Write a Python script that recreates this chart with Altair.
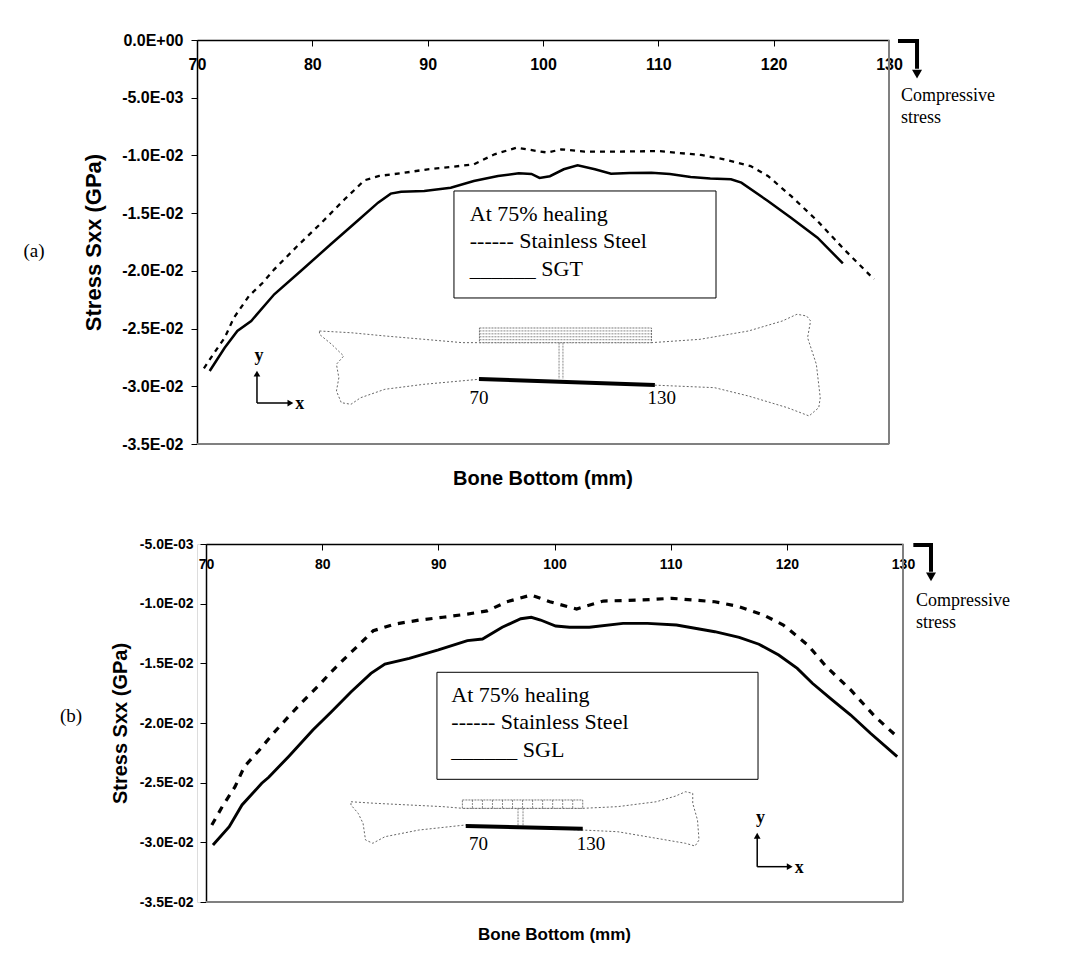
import altair as alt
import pandas as pd

# ---------------- data ----------------
X_TICKS = [70, 80, 90, 100, 110, 120, 130]
A_Y_TICKS = [0.0, -0.005, -0.010, -0.015, -0.020, -0.025, -0.030, -0.035]
B_Y_TICKS = [-0.005, -0.010, -0.015, -0.020, -0.025, -0.030, -0.035]

# Panel (a): Stainless Steel (dashed)
A_SS_X = [70.6, 71.5, 72.4, 73.2, 74.5, 75.7, 76.7, 78.7, 80.8, 81.8, 82.8, 83.8,
          84.5, 85.8, 88.0, 90.0, 92.0, 94.0, 95.8, 97.7, 99.5, 100.4, 101.6, 103.6,
          106.5, 110.0, 113.7, 115.7, 118.0, 119.5, 121.5, 123.8, 126.1, 128.7]
A_SS_Y = [-0.02844, -0.02709, -0.02579, -0.02406, -0.02218, -0.02103, -0.01987, -0.01785,
          -0.01583, -0.01481, -0.01380, -0.01285, -0.01216, -0.01178, -0.01150, -0.01120,
          -0.01100, -0.01077, -0.00990, -0.00933, -0.00962, -0.00975, -0.00947, -0.00967,
          -0.00967, -0.00962, -0.00996, -0.01034, -0.01092, -0.01178, -0.01351, -0.01568,
          -0.01813, -0.02073]

# Panel (a): SGT (solid)
A_SGT_X = [71.1, 72.4, 73.5, 74.7, 76.7, 79.0, 81.6, 83.9, 85.7, 86.8, 87.7, 89.7,
           92.0, 94.0, 96.1, 97.9, 99.0, 99.7, 100.6, 101.8, 103.0, 104.5, 105.9, 107.5,
           109.4, 111.0, 112.8, 114.5, 116.3, 117.2, 119.5, 121.5, 123.8, 126.0]
A_SGT_Y = [-0.02868, -0.02666, -0.02521, -0.02434, -0.02203, -0.02001, -0.01770, -0.01568,
           -0.01409, -0.01331, -0.01314, -0.01308, -0.01280, -0.01221, -0.01178, -0.01155,
           -0.01160, -0.01195, -0.01180, -0.01120, -0.01086, -0.01120, -0.01158, -0.01152,
           -0.01150, -0.01160, -0.01187, -0.01200, -0.01207, -0.01236, -0.01395, -0.01540,
           -0.01713, -0.01935]

# Panel (b): Stainless Steel (dashed)
B_SS_X = [70.5, 71.4, 72.5, 73.3, 74.6, 75.8, 77.1, 78.3, 79.6, 80.8, 82.1, 83.3, 84.4,
          86.3, 88.4, 90.4, 92.5, 94.2, 95.9, 98.0, 99.6, 101.9, 104.2, 107.6, 110.1,
          113.8, 115.9, 118.0, 119.7, 121.8, 123.4, 125.5, 127.6, 129.5]
B_SS_Y = [-0.02855, -0.02701, -0.02534, -0.02366, -0.02226, -0.02086, -0.01947, -0.01822,
          -0.01696, -0.01570, -0.01444, -0.01332, -0.01227, -0.01170, -0.01137, -0.01114,
          -0.01087, -0.01061, -0.00984, -0.00927, -0.00984, -0.01045, -0.00978, -0.00969,
          -0.00955, -0.00984, -0.01025, -0.01095, -0.01179, -0.01346, -0.01528, -0.01723,
          -0.01947, -0.02115]

# Panel (b): SGL (solid)
B_SGL_X = [70.6, 72.0, 73.1, 74.8, 75.4, 77.1, 79.2, 80.8, 82.5, 84.2, 85.4, 87.5, 90.0,
           92.5, 93.8, 95.5, 97.1, 98.0, 98.8, 100.1, 101.3, 103.0, 105.9, 108.0, 110.5,
           113.8, 115.9, 117.6, 119.3, 120.9, 122.2, 123.9, 125.5, 127.2, 129.5]
B_SGL_Y = [-0.03022, -0.02869, -0.02687, -0.02505, -0.02455, -0.02282, -0.02059, -0.01905,
           -0.01738, -0.01584, -0.01506, -0.01458, -0.01388, -0.01310, -0.01296, -0.01198,
           -0.01126, -0.01114, -0.01137, -0.01187, -0.01198, -0.01198, -0.01165, -0.01165,
           -0.01179, -0.01235, -0.01282, -0.01340, -0.01430, -0.01542, -0.01667, -0.01807,
           -0.01933, -0.02086, -0.02282]

LEGEND_TITLE = "At 75% healing"
A_LEGEND = [LEGEND_TITLE, "------ Stainless Steel", "______ SGT"]
B_LEGEND = [LEGEND_TITLE, "------ Stainless Steel", "______ SGL"]

# Inset bone sketches (outline in chart units: mm, GPa)
BONE_A = [(80.62, -0.02521), (83.35, -0.02536), (86.29, -0.02564), (89.66, -0.02593),
          (93.01, -0.02622), (94.49, -0.02622), (109.41, -0.02622), (113.61, -0.02593),
          (117.81, -0.02521), (120.76, -0.02434), (122.02, -0.02376), (122.86, -0.02391),
          (123.20, -0.02434), (122.94, -0.02579), (123.70, -0.02809), (124.04, -0.03099),
          (123.91, -0.03185), (123.07, -0.03257), (121.18, -0.03185), (117.81, -0.03084),
          (114.87, -0.03012), (109.41, -0.02989), (94.49, -0.02939), (89.66, -0.02983),
          (86.29, -0.03026), (84.19, -0.03099), (83.35, -0.03156), (82.51, -0.03142),
          (82.09, -0.03041), (82.30, -0.02926), (82.09, -0.02809), (82.72, -0.02738),
          (81.67, -0.02636), (80.62, -0.02550), (80.62, -0.02521)]
BONE_B = [(82.48, -0.02660), (84.57, -0.02673), (87.48, -0.02687), (90.40, -0.02701),
          (92.07, -0.02715), (102.43, -0.02715), (105.43, -0.02701), (108.76, -0.02660),
          (110.43, -0.02612), (111.27, -0.02576), (111.90, -0.02589), (111.90, -0.02673),
          (112.31, -0.02813), (112.44, -0.02980), (112.10, -0.03031), (111.27, -0.03008),
          (108.76, -0.02966), (105.43, -0.02911), (102.43, -0.02897), (92.29, -0.02855),
          (88.32, -0.02897), (85.40, -0.02953), (84.36, -0.03008), (83.73, -0.02980),
          (83.52, -0.02841), (83.10, -0.02757), (82.48, -0.02687), (82.48, -0.02660)]

SANS = "Liberation Sans"
SERIF = "Liberation Serif"

LABEL_EXPR = (
    "datum.value == 0 ? '0.0E+00' : "
    "(datum.value < 0 ? '-' : '') + "
    "format(abs(datum.value) / pow(10, floor(log(abs(datum.value)) / LN10 + 1e-9)), '.1f') + 'E' + "
    "(floor(log(abs(datum.value)) / LN10 + 1e-9) < 0 ? '-' : '+') + '0' + "
    "abs(floor(log(abs(datum.value)) / LN10 + 1e-9))"
)


def series_df(xs, ys):
    return pd.DataFrame({"x": xs, "y": ys, "i": list(range(len(xs)))})


def path_df(pts):
    return pd.DataFrame({"x": [p[0] for p in pts], "y": [p[1] for p in pts],
                         "i": list(range(len(pts)))})


def panel(c):
    W, H, S = c["W"], c["H"], c["shift"]
    GW = W + S
    xs = alt.Scale(domain=[70, 130], nice=False, zero=False, range=[S, GW])
    ys = alt.Scale(domain=c["ydom"], nice=False, zero=False)
    xaxis = alt.Axis(orient="bottom", offset=-H, values=X_TICKS, title=None, grid=False,
                     tickSize=6, tickColor="black", tickWidth=1, domainColor="black",
                     domainWidth=1.5, labelPadding=c["xlp"], labelFont=SANS,
                     labelFontWeight="bold", labelFontSize=c["xfs"], labelColor="black",
                     labelFlush=False, labelOverlap=False)
    yaxis = alt.Axis(values=c["yticks"], title="Stress Sxx (GPa)", titleFont=SANS,
                     titleFontWeight="bold", titleFontSize=c["tfs"], titleColor="black",
                     titlePadding=c["tp"], grid=False, tickSize=6, tickColor="black",
                     domainColor="black", domainWidth=1.5, labelFont=SANS,
                     labelFontWeight="bold", labelFontSize=c["fs"], labelColor="black",
                     labelPadding=c["ylp"], labelExpr=LABEL_EXPR, labelOverlap=False,
                     offset=-S)

    def X(f="x"):
        return alt.X(f + ":Q", scale=xs, axis=xaxis)

    def Y(f="y"):
        return alt.Y(f + ":Q", scale=ys, axis=yaxis)

    ylo, yhi = c["ydom"]
    layers = []
    # grey plot-area frame (right and bottom edges)
    layers.append(alt.Chart(pd.DataFrame(
        {"x": [130, 70], "x2": [130, 130], "y": [yhi, ylo], "y2": [ylo, ylo]})).mark_rule(
        color="#808080", strokeWidth=2).encode(x=X(), x2="x2:Q", y=Y(), y2="y2:Q"))
    # bone outline
    layers.append(alt.Chart(path_df(c["bone"])).mark_line(
        color="#555555", strokeWidth=0.9, strokeDash=[2, 2]).encode(
        x=X(), y=Y(), order="i:Q"))
    # plate block on top of bone
    px0, px1, py0, py1 = c["plate"]
    layers.append(alt.Chart(pd.DataFrame({"x": [px0], "x2": [px1], "y": [py0], "y2": [py1]}))
                  .mark_rect(fill="white", stroke="#555555", strokeWidth=0.8, strokeDash=[2, 1])
                  .encode(x=X(), x2="x2:Q", y=Y(), y2="y2:Q"))
    layers.append(alt.Chart(pd.DataFrame(c["plate_lines"])).mark_rule(
        color="#555555", strokeWidth=0.7, strokeDash=[2, 1]).encode(
        x=X(), x2="x2:Q", y=Y(), y2="y2:Q"))
    # bottom bold plate and labels
    layers.append(alt.Chart(pd.DataFrame(c["bold"])).mark_line(
        color="black", strokeWidth=4).encode(x=X(), y=Y(), order="i:Q"))
    layers.append(alt.Chart(pd.DataFrame(c["bone_labels"])).mark_text(
        font=SERIF, fontSize=c["bfs"], color="black").encode(x=X(), y=Y(), text="t:N"))
    # small xy glyph
    layers.append(alt.Chart(pd.DataFrame(c["glyph_rules"])).mark_rule(
        color="black", strokeWidth=1.5).encode(x=X(), x2="x2:Q", y=Y(), y2="y2:Q"))
    layers.append(alt.Chart(pd.DataFrame(c["glyph_heads"])).mark_point(
        filled=True, color="black", size=45, opacity=1).encode(
        x=X(), y=Y(), shape=alt.Shape("s:N", scale=None)))
    layers.append(alt.Chart(pd.DataFrame(c["glyph_text"])).mark_text(
        font=SERIF, fontSize=18, fontWeight="bold", color="black").encode(
        x=X(), y=Y(), text="t:N"))
    # data lines
    layers.append(alt.Chart(series_df(c["ssx"], c["ssy"])).mark_line(
        color="black", strokeWidth=c["dw"], strokeDash=c["dash"]).encode(
        x=X(), y=Y(), order="i:Q"))
    layers.append(alt.Chart(series_df(c["solx"], c["soly"])).mark_line(
        color="black", strokeWidth=c["sw"]).encode(x=X(), y=Y(), order="i:Q"))
    # legend box
    lx0, lx1, ly0, ly1 = c["legbox"]
    layers.append(alt.Chart(pd.DataFrame({"x": [lx0], "x2": [lx1], "y": [ly0], "y2": [ly1]}))
                  .mark_rect(fill="white", stroke="black", strokeWidth=1)
                  .encode(x=X(), x2="x2:Q", y=Y(), y2="y2:Q"))
    layers.append(alt.Chart(pd.DataFrame({"x": [c["legx"]] * 3, "y": c["legy"], "t": c["legend"]}))
                  .mark_text(font=SERIF, fontSize=c["lfs"], align="left", baseline="middle",
                             color="black")
                  .encode(x=X(), y=Y(), text="t:N"))
    # compressive stress arrow + text
    layers.append(alt.Chart(pd.DataFrame(c["carrow"])).mark_line(
        color="black", strokeWidth=4, strokeJoin="miter", strokeCap="butt").encode(
        x=X(), y=Y(), order="i:Q"))
    layers.append(alt.Chart(pd.DataFrame(c["chead"])).mark_point(
        filled=True, color="black", size=100, opacity=1, shape="triangle-down").encode(x=X(), y=Y()))
    layers.append(alt.Chart(pd.DataFrame(c["ctext"])).mark_text(
        font=SERIF, fontSize=18, align="left", baseline="middle", color="black").encode(
        x=X(), y=Y(), text="t:N"))
    # panel tag and x title
    layers.append(alt.Chart(pd.DataFrame({"t": [c["tag"]]})).mark_text(
        font=SERIF, fontSize=19, color="black").encode(
        x=alt.value(c["tagx"]), y=alt.value(c["tagy"]), text="t:N"))
    layers.append(alt.Chart(pd.DataFrame({"t": ["Bone Bottom (mm)"]})).mark_text(
        font=SANS, fontSize=c["xtfs"], fontWeight="bold", color="black").encode(
        x=alt.value(S + W / 2), y=alt.value(H + c["xty"]), text="t:N"))

    return alt.layer(*layers).properties(width=GW, height=H)


def segments(x0s, x1s, y0s, y1s):
    return {"x": list(x0s), "x2": list(x1s), "y": list(y0s), "y2": list(y1s)}


# plate hatch (a): horizontal dashed lines + the double vertical connector
a_hatch = [-0.02495 + k * (-0.02622 + 0.02495) / 5 for k in range(1, 5)]
a_plate_lines = segments([94.49] * 4 + [101.39, 101.73],
                         [109.41] * 4 + [101.39, 101.73],
                         a_hatch + [-0.02622, -0.02622],
                         a_hatch + [-0.02937, -0.02937])

# plate cells (b): vertical dividers + the double vertical connector
b_div = [92.07 + k * (102.43 - 92.07) / 12 for k in range(1, 12)]
b_plate_lines = segments(b_div + [96.86, 97.29],
                         b_div + [96.86, 97.29],
                         [-0.02645] * 11 + [-0.02715, -0.02715],
                         [-0.02715] * 11 + [-0.02863, -0.02863])

cfg_a = dict(
    W=692, H=404, shift=0, ydom=[-0.035, 0.0], yticks=A_Y_TICKS, fs=16, xfs=16, tfs=22,
    tp=16, xlp=10, ylp=8,
    ssx=A_SS_X, ssy=A_SS_Y, solx=A_SGT_X, soly=A_SGT_Y, dw=2.3, dash=[5, 5], sw=2.5,
    bone=BONE_A, plate=(94.49, 109.41, -0.02495, -0.02622), plate_lines=a_plate_lines,
    bold={"x": [94.45, 109.7], "y": [-0.02937, -0.02989], "i": [0, 1]},
    bone_labels={"x": [94.45, 110.3], "y": [-0.03101, -0.03101], "t": ["70", "130"]}, bfs=19,
    glyph_rules={"x": [75.2, 75.2], "x2": [75.2, 77.9], "y": [-0.03145, -0.03145],
                 "y2": [-0.0290, -0.03145]},
    glyph_heads={"x": [75.2, 78.1], "y": [-0.0289, -0.03145], "s": ["triangle-up", "triangle-right"]},
    glyph_text={"x": [75.37, 78.9], "y": [-0.02737, -0.03153], "t": ["y", "x"]},
    legbox=(92.28, 115.0, -0.01308, -0.02235), legx=93.65,
    legy=[-0.01507, -0.01741, -0.01984], legend=A_LEGEND, lfs=22,
    carrow={"x": [130.78, 132.43, 132.43], "y": [-0.00009, -0.00009, -0.00250], "i": [0, 1, 2]},
    chead={"x": [132.43], "y": [-0.00295]},
    ctext={"x": [131.04, 131.04], "y": [-0.00485, -0.00676], "t": ["Compressive", "stress"]},
    tag="(a)", tagx=-163, tagy=211, xtfs=20, xty=35,
)

cfg_b = dict(
    W=697, H=358, shift=9, ydom=[-0.035, -0.005], yticks=B_Y_TICKS, fs=14, xfs=14, tfs=20,
    tp=9, xlp=7, ylp=7,
    ssx=B_SS_X, ssy=B_SS_Y, solx=B_SGL_X, soly=B_SGL_Y, dw=3.2, dash=[7, 7], sw=2.9,
    bone=BONE_B, plate=(92.07, 102.43, -0.02645, -0.02715), plate_lines=b_plate_lines,
    bold={"x": [92.36, 102.43], "y": [-0.02863, -0.02886], "i": [0, 1]},
    bone_labels={"x": [93.45, 103.14], "y": [-0.03014, -0.03014], "t": ["70", "130"]}, bfs=19,
    glyph_rules={"x": [117.45, 117.45], "x2": [117.45, 120.05], "y": [-0.03204, -0.03204],
                 "y2": [-0.02960, -0.03204]},
    glyph_heads={"x": [117.45, 120.25], "y": [-0.02945, -0.03204], "s": ["triangle-up", "triangle-right"]},
    glyph_text={"x": [117.74, 121.07], "y": [-0.02799, -0.03218], "t": ["y", "x"]},
    legbox=(89.88, 117.52, -0.01575, -0.02472), legx=91.12,
    legy=[-0.01765, -0.01989, -0.02226], legend=B_LEGEND, lfs=22,
    carrow={"x": [130.89, 132.41, 132.41], "y": [-0.00509, -0.00509, -0.00732], "i": [0, 1, 2]},
    chead={"x": [132.41], "y": [-0.00775]},
    ctext={"x": [131.12, 131.12], "y": [-0.00975, -0.0116], "t": ["Compressive", "stress"]},
    tag="(b)", tagx=-126, tagy=172, xtfs=17, xty=33,
)

chart = alt.vconcat(panel(cfg_a), panel(cfg_b), spacing=46).properties(
    padding={"left": 14, "top": 23, "right": 5, "bottom": 5}
).configure_view(stroke=None).configure(background="white")

chart.save("out.html", embed_options={"renderer": "svg", "actions": False})
